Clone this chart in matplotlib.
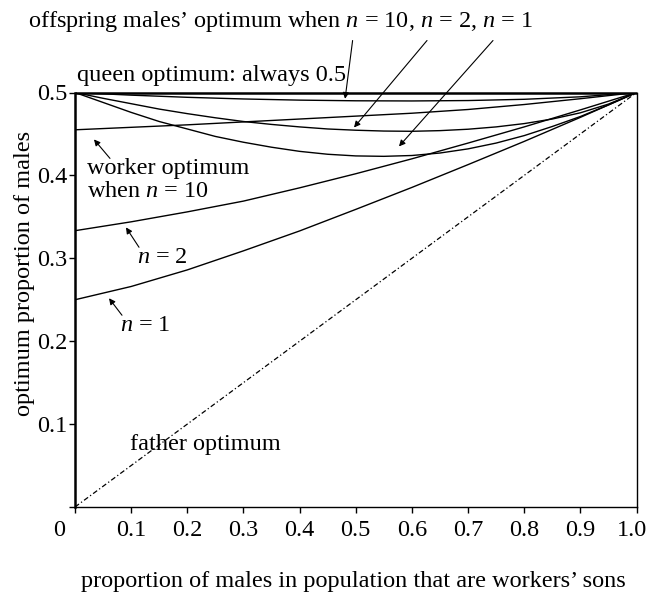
import matplotlib
matplotlib.use("Agg")
import matplotlib.pyplot as plt

plt.rcParams['font.family'] = ['Liberation Serif', 'DejaVu Serif']
plt.rcParams['mathtext.fontset'] = 'custom'
plt.rcParams['mathtext.rm'] = 'Liberation Serif'
plt.rcParams['mathtext.it'] = 'Liberation Serif:italic'

# ---- data ----
x_coarse = [0.0, 0.1, 0.2, 0.3, 0.4, 0.5, 0.6, 0.7, 0.8, 0.9, 1.0]
x_fine = [0.0, 0.05, 0.1, 0.15, 0.2, 0.25, 0.3, 0.35, 0.4, 0.45, 0.5,
          0.55, 0.6, 0.65, 0.7, 0.75, 0.8, 0.85, 0.9, 0.95, 1.0]

queen_x = [0.0, 1.0]
queen_y = [0.5, 0.5]

father_x = [0.0, 1.0]
father_y = [0.0, 0.5]

worker_n1 = [0.25, 0.266, 0.286, 0.309, 0.333, 0.359, 0.3855, 0.413, 0.441, 0.470, 0.5]
worker_n2 = [0.3333, 0.344, 0.356, 0.369, 0.385, 0.402, 0.420, 0.439, 0.4585, 0.479, 0.5]
worker_n10 = [0.455, 0.458, 0.461, 0.4645, 0.468, 0.4715, 0.475, 0.4795, 0.4855, 0.4925, 0.5]

offspring_n10 = [0.5, 0.4968, 0.4942, 0.4922, 0.4908, 0.4900, 0.4898, 0.4903, 0.4918, 0.4948, 0.5]
offspring_n2 = [0.5, 0.493, 0.4865, 0.480, 0.4745, 0.4695, 0.465, 0.4615, 0.4585, 0.456, 0.4545,
                0.4535, 0.4532, 0.4540, 0.4557, 0.4585, 0.4625, 0.468, 0.4755, 0.486, 0.5]
offspring_n1 = [0.5, 0.488, 0.476, 0.465, 0.456, 0.447, 0.440, 0.434, 0.429, 0.4255, 0.4235,
                0.423, 0.424, 0.427, 0.432, 0.439, 0.448, 0.459, 0.471, 0.485, 0.5]

xtick_vals = [0.0, 0.1, 0.2, 0.3, 0.4, 0.5, 0.6, 0.7, 0.8, 0.9, 1.0]
xtick_labels = ['', '0.1', '0.2', '0.3', '0.4', '0.5', '0.6', '0.7', '0.8', '0.9', '']
ytick_vals = [0.0, 0.1, 0.2, 0.3, 0.4, 0.5]
ytick_labels = ['', '0.1', '0.2', '0.3', '0.4', '0.5']

FS = 17.5

fig = plt.figure(figsize=(6.49, 5.95), dpi=100)
ax = fig.add_axes([75/649, 1-507/595, (636.5-75)/649, (507-92.5)/595])
ax.set_xlim(0, 1)
ax.set_ylim(0, 0.5)

lw = 1.0
ax.plot(queen_x, queen_y, color='black', lw=1.8, clip_on=False, solid_capstyle='butt')
ax.plot(father_x, father_y, color='black', lw=0.9, linestyle=(0, (4, 2, 1, 2)))
for yy in (worker_n1, worker_n2, worker_n10, offspring_n10):
    ax.plot(x_coarse, yy, color='black', lw=lw)
for yy in (offspring_n2, offspring_n1):
    ax.plot(x_fine, yy, color='black', lw=lw)

# spines
ax.spines['top'].set_visible(False)
ax.spines['left'].set_linewidth(1.8)
ax.spines['bottom'].set_linewidth(1.0)
ax.spines['right'].set_linewidth(1.0)

ax.set_xticks(xtick_vals)
ax.set_xticklabels(xtick_labels)
ax.set_yticks(ytick_vals)
ax.set_yticklabels(ytick_labels)
ax.tick_params(axis='x', direction='out', length=4, width=1.0, pad=5, labelsize=FS)
ax.tick_params(axis='y', direction='out', length=4, width=1.0, pad=1.5, labelsize=FS)

# corner "0" and the right-most "1.0" label (shifted to stay inside the figure)
ax.text(-0.0285, -0.028, '0', fontsize=FS, ha='center', va='center', clip_on=False)
ax.text(0.992, -0.028, '1.0', fontsize=FS, ha='center', va='center', clip_on=False)

fig.text(353/649, 1-582/595, 'proportion of males in population that are workers\u2019 sons',
         fontsize=FS, ha='center', va='center')
fig.text(25/649, 1-273/595, 'optimum proportion of males', fontsize=FS,
         ha='center', va='center', rotation=90)

# annotations
fig.text(28/649, 1-22/595, 'offspring males\u2019 optimum when $n$ = 10, $n$ = 2, $n$ = 1',
         fontsize=FS, ha='left', va='center')
ax.text(0.0036, 0.5205, 'queen optimum: always 0.5', fontsize=FS, ha='left', va='center', clip_on=False)
ax.text(0.0214, 0.4084, 'worker optimum', fontsize=FS, ha='left', va='center')
ax.text(0.0214, 0.3807, 'when $n$ = 10', fontsize=FS, ha='left', va='center')
ax.text(0.110, 0.301, '$n$ = 2', fontsize=FS, ha='left', va='center')
ax.text(0.080, 0.219, '$n$ = 1', fontsize=FS, ha='left', va='center')
ax.text(0.098, 0.0759, 'father optimum', fontsize=FS, ha='left', va='center')

ap = dict(arrowstyle='-|>', color='black', lw=0.8, mutation_scale=9, shrinkA=0, shrinkB=0)
arrows = [((0.0623, 0.4205), (0.0338, 0.4434)),
          ((0.114, 0.3133), (0.0908, 0.3373)),
          ((0.0837, 0.2313), (0.0606, 0.2518)),
          ((0.4944, 0.5627), (0.481, 0.4924)),
          ((0.6269, 0.5627), (0.4969, 0.4578)),
          ((0.7444, 0.5627), (0.577, 0.435))]
for tail, head in arrows:
    ax.annotate('', xy=head, xytext=tail, arrowprops=ap, annotation_clip=False)

fig.savefig('out.png', dpi=100)
